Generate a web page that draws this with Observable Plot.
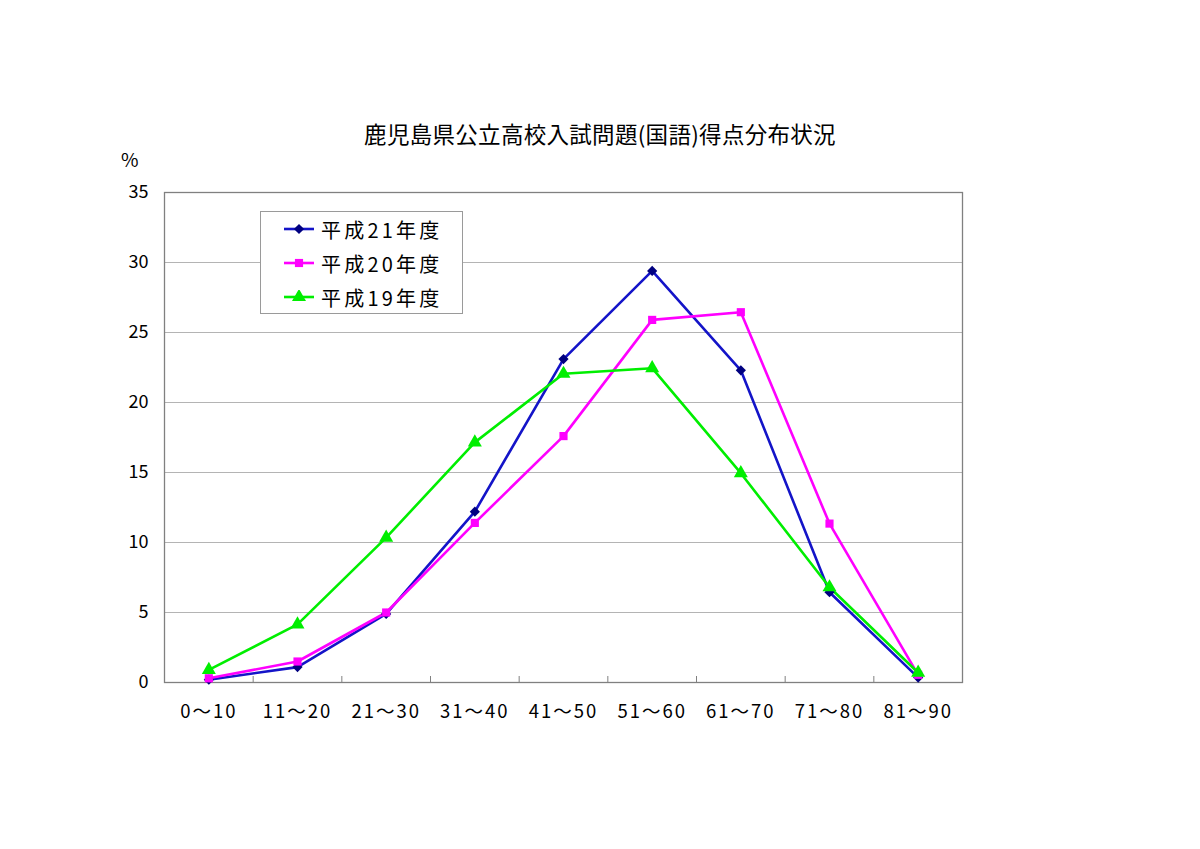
<!DOCTYPE html>
<html>
<head>
<meta charset="utf-8">
<script src="https://cdn.jsdelivr.net/npm/d3@7"></script>
<script src="https://cdn.jsdelivr.net/npm/@observablehq/plot@0.6"></script>
<style>
  html, body { margin: 0; padding: 0; background: #fff; }
  #wrap { position: relative; width: 1200px; height: 849px; font-family: "Noto Sans CJK JP", "Noto Sans", sans-serif; }
  #title { position: absolute; left: 0; width: 1200px; top: 117px; text-align: center; font-size: 22.5px; letter-spacing: 0.3px; color: #000; box-sizing: border-box; }
  #unit { position: absolute; left: 121px; top: 145px; font-size: 19px; color: #000; }
  #legend { position: absolute; left: 260px; top: 211px; width: 203px; height: 103px; border: 1px solid #9a9a9a; background: #fff; box-sizing: border-box; }
  .item { position: absolute; left: 0; height: 34px; display: flex; align-items: center; font-size: 20px; letter-spacing: 3.2px; color: #000; }
  .item svg { margin-left: 22px; margin-right: 6px; }
  #chart { position: absolute; left: 0; top: 0; }
  #chart svg g[aria-label="x-axis tick label"] text { letter-spacing: 2px; }
</style>
</head>
<body>
<div id="wrap">
  <div id="chart"></div>
  <div id="title"></div>
  <div id="unit">%</div>
  <div id="legend"></div>
</div>
<script>
const categories = ["0〜10", "11〜20", "21〜30", "31〜40", "41〜50", "51〜60", "61〜70", "71〜80", "81〜90"];
const seriesNames = ["平成21年度", "平成20年度", "平成19年度"];
const h21 = [0.2, 1.1, 4.9, 12.2, 23.1, 29.4, 22.3, 6.45, 0.35];
const h20 = [0.3, 1.5, 5.0, 11.4, 17.6, 25.9, 26.45, 11.35, 0.55];
const h19 = [0.9, 4.15, 10.35, 17.15, 22.05, 22.45, 14.95, 6.8, 0.7];
const yTicks = [0, 5, 10, 15, 20, 25, 30, 35];
const titleText = "鹿児島県公立高校入試問題(国語)得点分布状況";

const styles = [
  {line: "#1414c8", fill: "#000080", symbol: "diamond2", r: 4.6},
  {line: "#ff00ff", fill: "#ff00ff", symbol: "square", r: 4.6},
  {line: "#00ee00", fill: "#00ee00", symbol: "triangle", r: 5.2}
];
const seriesValues = [h21, h20, h19];

const rows = [];
seriesValues.forEach((vals, s) => vals.forEach((v, i) => rows.push({series: seriesNames[s], s, i, v})));
const bounds = categories.slice(1).map((_, i) => i + 0.5);

const W = 1200, H = 849;
const mL = 164, mR = 238, mT = 192, mB = 167;
const innerH = H - mT - mB;

const marks = [
  Plot.ruleY(yTicks.filter(d => d > 0 && d < 35), {y: d => d, stroke: "#b4b4b4", strokeWidth: 1}),
  Plot.frame({stroke: "#808080", strokeWidth: 1.3}),
  Plot.ruleX(bounds, {x: d => d, stroke: "#808080", strokeWidth: 1, insetTop: innerH - 6}),
  Plot.axisY({ticks: yTicks, tickSize: 0, tickPadding: 16, fontSize: 18, tickFormat: d => d, label: null}),
  Plot.axisX({ticks: d3.range(categories.length), tickSize: 0, tickPadding: 22, fontSize: 18.5, tickFormat: i => categories[i], label: null})
];
seriesValues.forEach((vals, s) => {
  const data = rows.filter(d => d.s === s);
  marks.push(Plot.line(data, {x: "i", y: "v", stroke: styles[s].line, strokeWidth: 2.6}));
});
seriesValues.forEach((vals, s) => {
  const data = rows.filter(d => d.s === s);
  marks.push(Plot.dot(data, {x: "i", y: "v", symbol: () => styles[s].symbol, fill: styles[s].fill, stroke: "none", r: styles[s].r}));
});

const chart = Plot.plot({
  width: W, height: H,
  marginLeft: mL, marginRight: mR, marginTop: mT, marginBottom: mB,
  style: {fontFamily: "'Noto Sans CJK JP', sans-serif", color: "#000", background: "transparent"},
  x: {type: "linear", domain: [-0.5, categories.length - 0.5]},
  y: {domain: [0, 35]},
  symbol: {type: "identity"},
  marks
});
document.getElementById("chart").appendChild(chart);
document.getElementById("title").textContent = titleText;

const legend = document.getElementById("legend");
seriesNames.forEach((name, s) => {
  const st = styles[s];
  const div = document.createElement("div");
  div.className = "item";
  div.style.top = (0 + s * 34) + "px";
  const ns = "http://www.w3.org/2000/svg";
  const svg = document.createElementNS(ns, "svg");
  svg.setAttribute("width", 32); svg.setAttribute("height", 14);
  const ln = document.createElementNS(ns, "line");
  ln.setAttribute("x1", 1); ln.setAttribute("x2", 31); ln.setAttribute("y1", 7); ln.setAttribute("y2", 7);
  ln.setAttribute("stroke", st.line); ln.setAttribute("stroke-width", 2.6);
  svg.appendChild(ln);
  const sym = {diamond2: d3.symbolDiamond2, square: d3.symbolSquare, triangle: d3.symbolTriangle}[st.symbol];
  const p = document.createElementNS(ns, "path");
  p.setAttribute("d", d3.symbol(sym, Math.PI * st.r * st.r)());
  p.setAttribute("transform", "translate(16,7)");
  p.setAttribute("fill", st.fill);
  svg.appendChild(p);
  div.appendChild(svg);
  const t = document.createElement("span");
  t.textContent = name;
  div.appendChild(t);
  legend.appendChild(div);
});
</script>
</body>
</html>
